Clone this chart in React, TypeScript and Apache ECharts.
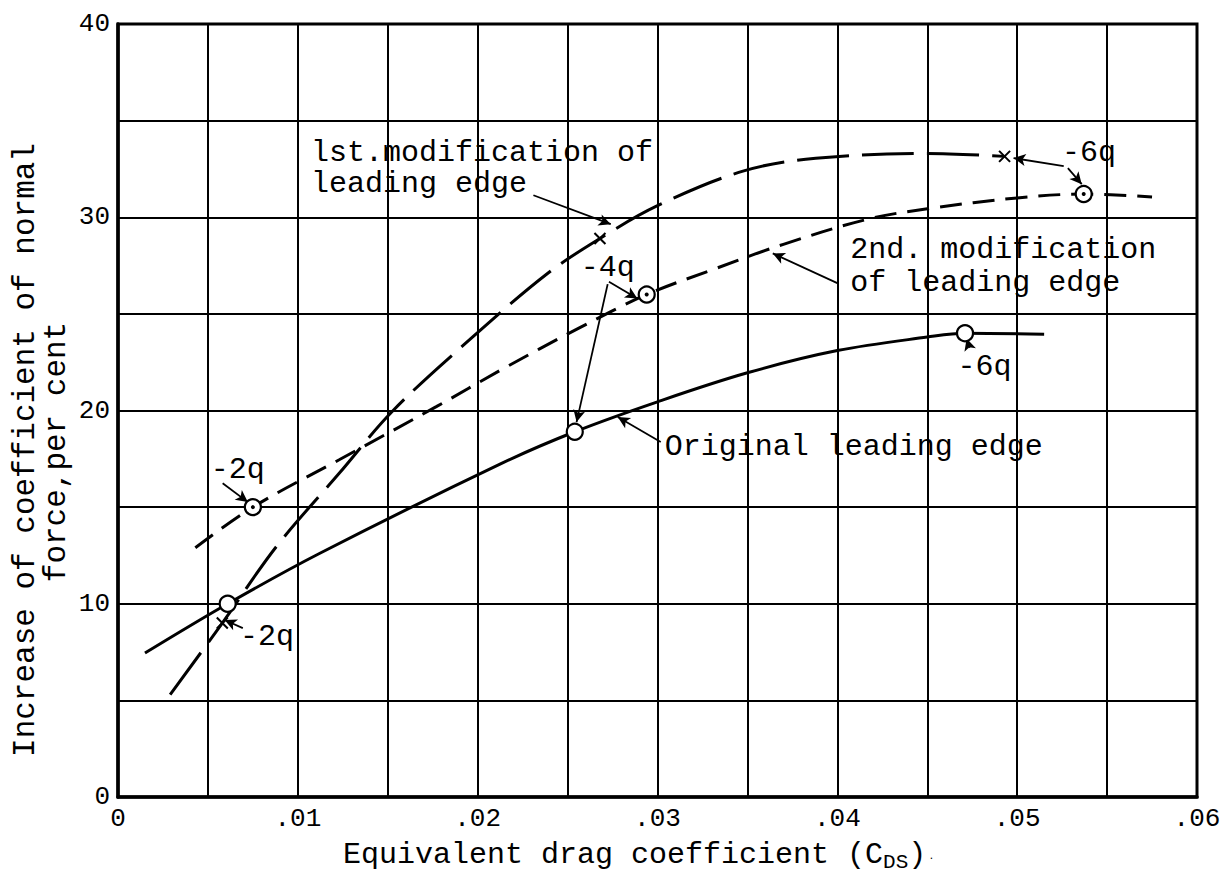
import React, { useEffect, useRef } from 'react';
import * as echarts from 'echarts';

const FONT = '"Liberation Mono", "DejaVu Sans Mono", monospace';

// Original leading edge (solid)
const originalX = [0.0015, 0.0061, 0.0112, 0.0213, 0.0254, 0.03, 0.035, 0.04, 0.045, 0.0471, 0.0515];
const originalY = [7.45, 10.0, 12.6, 17.25, 18.9, 20.45, 21.95, 23.1, 23.8, 24.0, 23.95];
const originalPtsX = [0.0061, 0.0254, 0.0471];
const originalPtsY = [10.0, 18.9, 24.0];

// 1st modification of leading edge (long dashes)
const mod1X = [0.0029, 0.0058, 0.0088, 0.0123, 0.0153, 0.0196, 0.0239, 0.0268, 0.03, 0.0348, 0.0388, 0.045, 0.0493];
const mod1Y = [5.3, 9.0, 12.95, 16.75, 20.0, 23.7, 27.1, 28.9, 30.6, 32.4, 33.05, 33.3, 33.15];
const mod1PtsX = [0.0058, 0.0268, 0.0493];
const mod1PtsY = [9.0, 28.9, 33.15];

// 2nd modification of leading edge (medium dashes)
const mod2X = [0.0043, 0.0075, 0.0123, 0.0177, 0.0213, 0.0256, 0.0294, 0.0331, 0.037, 0.0417, 0.0451, 0.05, 0.0537, 0.0575];
const mod2Y = [12.9, 15.0, 17.45, 20.2, 22.1, 24.25, 26.0, 27.3, 28.6, 29.9, 30.45, 31.0, 31.2, 31.05];
const mod2PtsX = [0.0075, 0.0294, 0.0537];
const mod2PtsY = [15.0, 26.0, 31.2];

// Axis ticks
const xTickLabels = ['0', '.01', '.02', '.03', '.04', '.05', '.06'];
const yTickLabels = ['0', '10', '20', '30', '40'];

// Annotation texts (data coordinates)
const notes = [
  { text: '-2q', x: 0.00666, y: 16.92, align: 'center', lh: 30 },
  { text: '-2q', x: 0.00828, y: 8.28, align: 'center', lh: 30 },
  { text: '-4q', x: 0.02723, y: 27.37, align: 'center', lh: 30 },
  { text: '-6q', x: 0.05399, y: 33.32, align: 'center', lh: 30 },
  { text: '-6q', x: 0.04819, y: 22.25, align: 'center', lh: 30 },
  { text: 'lst.modification of\nleading edge', x: 0.01073, y: 32.52, align: 'left', lh: 31 },
  { text: '2nd. modification\nof leading edge', x: 0.04072, y: 27.45, align: 'left', lh: 33 },
  { text: 'Original leading edge', x: 0.0304, y: 18.11, align: 'left', lh: 30 },
];

// Leader arrows: [fromX, fromY, toX, toY]
const arrows = [
  [0.00582, 16.24, 0.00722, 15.26],
  [0.00694, 8.74, 0.00593, 9.16],
  [0.0273, 26.66, 0.02888, 25.8],
  [0.02723, 26.54, 0.0255, 19.4],
  [0.05259, 32.64, 0.0498, 33.06],
  [0.05282, 32.54, 0.05359, 31.71],
  [0.04735, 23.24, 0.04719, 23.72],
  [0.0231, 31.14, 0.0274, 29.64],
  [0.04003, 26.58, 0.03641, 28.13],
  [0.03018, 18.37, 0.02779, 19.66],
];

const zip = (xs: number[], ys: number[]) => xs.map((x, i) => [x, ys[i]]);

export default function App() {
  const ref = useRef<HTMLDivElement>(null);
  useEffect(() => {
    if (!ref.current) return;
    const chart = echarts.init(ref.current, undefined, { renderer: 'svg' });
    const lineBase = { type: 'line', symbol: 'none', smooth: 0.35, silent: true };
    const ring = { color: '#fff', borderColor: '#000', borderWidth: 2.2, opacity: 1 };
    const option: any = {
      animation: false,
      backgroundColor: '#fff',
      grid: { left: 118, right: 27, top: 24, bottom: 82, show: true, borderColor: '#000', borderWidth: 3 },
      xAxis: {
        type: 'value', min: 0, max: 0.06, interval: 0.005,
        axisLine: { show: true, lineStyle: { color: '#000', width: 3.5 } },
        axisTick: { show: false },
        splitLine: { show: true, lineStyle: { color: '#000', width: 2 } },
        axisLabel: {
          margin: 9, color: '#000', fontFamily: FONT, fontSize: 26,
          formatter: (v: number) => {
            const k = Math.round(v / 0.005);
            return k % 2 === 0 ? xTickLabels[k / 2] : '';
          },
        },
      },
      yAxis: {
        type: 'value', min: 0, max: 40, interval: 5,
        axisLine: { show: true, lineStyle: { color: '#000', width: 3.5 } },
        axisTick: { show: false },
        splitLine: { show: true, lineStyle: { color: '#000', width: 2 } },
        axisLabel: {
          margin: 8, color: '#000', fontFamily: FONT, fontSize: 26,
          formatter: (v: number) => (v % 10 === 0 ? yTickLabels[v / 10] : ''),
        },
      },
      series: [
        { ...lineBase, name: 'Original leading edge', data: zip(originalX, originalY), lineStyle: { color: '#000', width: 3 } },
        { ...lineBase, name: '1st modification', data: zip(mod1X, mod1Y), lineStyle: { color: '#000', width: 3, type: [52, 13] } },
        { ...lineBase, name: '2nd modification', data: zip(mod2X, mod2Y), lineStyle: { color: '#000', width: 3, type: [22, 11] } },
        { type: 'scatter', silent: true, data: zip(originalPtsX, originalPtsY), symbol: 'circle', symbolSize: 16, itemStyle: ring, z: 5 },
        { type: 'scatter', silent: true, data: zip(mod2PtsX, mod2PtsY), symbol: 'circle', symbolSize: 16, itemStyle: ring, z: 5 },
        { type: 'scatter', silent: true, data: zip(mod2PtsX, mod2PtsY), symbol: 'circle', symbolSize: 4, itemStyle: { color: '#000', opacity: 1 }, z: 6 },
        {
          type: 'scatter', silent: true, data: zip(mod1PtsX, mod1PtsY), symbol: 'path://M0,0L10,10M10,0L0,10', symbolSize: 11,
          itemStyle: { color: 'none', borderColor: '#000', borderWidth: 2, opacity: 1 }, z: 6,
        },
        {
          type: 'line', silent: true, data: [], symbol: 'none',
          markLine: {
            silent: true, symbol: ['none', 'arrow'], symbolSize: [9, 12],
            label: { show: false },
            lineStyle: { color: '#000', width: 1.8, type: 'solid' },
            data: arrows.map((a) => [{ coord: [a[0], a[1]] }, { coord: [a[2], a[3]] }]),
          },
        },
      ],
    };
    chart.setOption(option);

    const graphics: any[] = notes.map((n) => {
      const p = chart.convertToPixel({ gridIndex: 0 }, [n.x, n.y]) as number[];
      return {
        type: 'text', x: p[0], y: p[1], z: 20, silent: true,
        style: {
          text: n.text, fill: '#000', fontFamily: FONT, fontSize: 30, lineHeight: n.lh,
          align: n.align, verticalAlign: 'middle',
        },
      };
    });
    graphics.push({
      type: 'text', x: 638, y: 855, silent: true,
      style: {
        text: '{a|Equivalent drag coefficient (C}{b|DS}{a|)} .',
        align: 'center', verticalAlign: 'middle', fill: '#000',
        rich: {
          a: { fontFamily: FONT, fontSize: 30, fill: '#000' },
          b: { fontFamily: FONT, fontSize: 21, fill: '#000', padding: [15, 0, 0, 0] },
        },
      },
    });
    graphics.push({
      type: 'text', x: 25, y: 450, rotation: Math.PI / 2, silent: true,
      style: { text: 'Increase of coefficient of normal', align: 'center', verticalAlign: 'middle', fill: '#000', fontFamily: FONT, fontSize: 31 },
    });
    graphics.push({
      type: 'text', x: 56, y: 452, rotation: Math.PI / 2, silent: true,
      style: { text: 'force,per cent', align: 'center', verticalAlign: 'middle', fill: '#000', fontFamily: FONT, fontSize: 31 },
    });
    chart.setOption({ graphic: graphics });
    return () => chart.dispose();
  }, []);
  return <div ref={ref} style={{ position: 'absolute', left: 0, top: 0, width: 1224, height: 879 }} />;
}
